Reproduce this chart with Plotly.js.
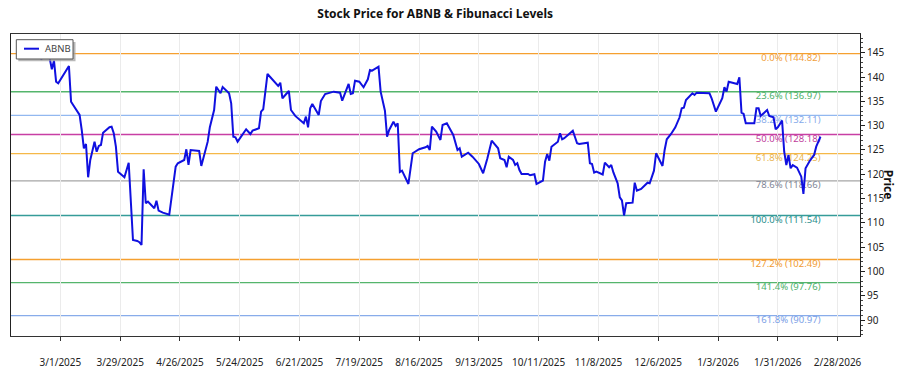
<!DOCTYPE html>
<html>
<head>
<meta charset="utf-8">
<script src="https://cdn.plot.ly/plotly-3.0.1.min.js"></script>
<style>html,body{margin:0;padding:0;background:#fff;}#chart{width:900px;height:375px;}</style>
</head>
<body>
<div id="chart"></div>
<script>
const dates = [
'2025-02-20','2025-02-21','2025-02-24','2025-02-25','2025-02-26','2025-02-27','2025-02-28','2025-03-05','2025-03-06','2025-03-08',
'2025-03-10','2025-03-11','2025-03-12','2025-03-13','2025-03-14','2025-03-15','2025-03-17','2025-03-18','2025-03-19','2025-03-20',
'2025-03-21','2025-03-24','2025-03-25','2025-03-26','2025-03-27','2025-03-28','2025-03-31','2025-04-02','2025-04-04','2025-04-06',
'2025-04-07','2025-04-08','2025-04-09','2025-04-10','2025-04-11','2025-04-14','2025-04-15','2025-04-16','2025-04-18','2025-04-21',
'2025-04-24','2025-04-25','2025-04-28','2025-04-29','2025-04-30','2025-05-01','2025-05-05','2025-05-06','2025-05-08','2025-05-09',
'2025-05-10','2025-05-12','2025-05-13','2025-05-14','2025-05-15','2025-05-16','2025-05-19','2025-05-20','2025-05-21','2025-05-22',
'2025-05-23','2025-05-27','2025-05-29','2025-05-30','2025-06-02','2025-06-03','2025-06-04','2025-06-06','2025-06-11','2025-06-12',
'2025-06-13','2025-06-16','2025-06-17','2025-06-19','2025-06-21','2025-06-23','2025-06-24','2025-06-25','2025-06-26','2025-06-27',
'2025-06-30','2025-07-01','2025-07-03','2025-07-07','2025-07-10','2025-07-11','2025-07-14','2025-07-15','2025-07-16','2025-07-17',
'2025-07-19','2025-07-21','2025-07-23','2025-07-24','2025-07-25','2025-07-28','2025-07-29','2025-07-31','2025-08-01','2025-08-02',
'2025-08-04','2025-08-05','2025-08-06','2025-08-07','2025-08-08','2025-08-11','2025-08-13','2025-08-16','2025-08-19','2025-08-20',
'2025-08-21','2025-08-22','2025-08-24','2025-08-26','2025-08-27','2025-08-29','2025-09-01','2025-09-03','2025-09-04','2025-09-05',
'2025-09-08','2025-09-10','2025-09-13','2025-09-15','2025-09-17','2025-09-19','2025-09-22','2025-09-23','2025-09-25','2025-09-26',
'2025-09-27','2025-09-29','2025-09-30','2025-10-01','2025-10-02','2025-10-03','2025-10-06','2025-10-07','2025-10-09','2025-10-10',
'2025-10-13','2025-10-14','2025-10-15','2025-10-16','2025-10-17','2025-10-20','2025-10-21','2025-10-22','2025-10-23','2025-10-27',
'2025-10-29','2025-10-30','2025-11-03','2025-11-04','2025-11-05','2025-11-06','2025-11-07','2025-11-10','2025-11-11','2025-11-13',
'2025-11-14','2025-11-15','2025-11-17','2025-11-18','2025-11-19','2025-11-20','2025-11-21','2025-11-23','2025-11-24','2025-11-25',
'2025-11-26','2025-11-28','2025-12-01','2025-12-02','2025-12-04','2025-12-05','2025-12-08','2025-12-09','2025-12-10','2025-12-12',
'2025-12-14','2025-12-16','2025-12-17','2025-12-18','2025-12-19','2025-12-22','2025-12-23','2025-12-24','2025-12-30','2025-12-31',
'2026-01-02','2026-01-05','2026-01-06','2026-01-07','2026-01-08','2026-01-12','2026-01-13','2026-01-14','2026-01-15','2026-01-16',
'2026-01-20','2026-01-21','2026-01-22','2026-01-23','2026-01-26','2026-01-27','2026-01-29','2026-01-30','2026-01-31','2026-02-02',
'2026-02-03','2026-02-04','2026-02-05','2026-02-06','2026-02-07','2026-02-09','2026-02-10','2026-02-11','2026-02-12','2026-02-13',
'2026-02-15','2026-02-17','2026-02-18','2026-02-20'
];
const prices = [
143.5,144.82,143.85,141.59,143.36,139.04,138.71,142.27,134.93,133.57,
132.2,129.11,125.35,126.24,119.39,122.95,126.71,124.65,125.83,126.03,
128.56,129.67,129.8,128.44,125.68,120.54,119.39,122.39,106.51,106.3,
106.04,105.48,121.04,114.05,114.38,113.02,114.58,112.53,112.12,111.7,
121.57,122.27,122.95,125.15,121.92,125.0,124.8,121.72,125.0,126.71,
129.67,133.22,138.01,137.33,136.66,137.95,136.66,134.6,127.74,127.61,
126.71,129.26,128.29,128.97,129.46,132.88,133.37,140.62,138.16,138.83,
135.63,137.13,133.22,132.0,131.31,130.49,131.85,129.67,133.57,134.46,
132.2,135.07,136.51,136.99,136.78,135.14,138.57,136.51,136.66,139.25,
139.04,137.89,139.53,141.44,141.3,142.12,136.99,133.08,127.74,129.11,
130.82,129.94,130.49,120.48,120.75,118.02,124.33,125.15,125.56,125.83,
125.0,129.79,128.77,127.06,130.14,130.49,128.09,125.0,125.35,123.63,
124.45,123.63,122.13,120.22,123.3,126.92,125.35,123.3,122.95,121.45,
123.63,122.95,121.92,122.27,120.89,120.07,120.07,119.8,120.01,118.02,
118.7,122.6,124.18,122.8,125.68,126.71,128.44,127.2,127.41,128.97,
126.38,126.24,126.5,122.27,122.13,120.34,120.54,119.97,122.39,121.45,
121.92,120.38,118.16,115.28,114.63,111.54,114.05,114.17,114.17,118.28,
116.64,116.99,118.28,118.16,120.75,124.33,121.72,125.0,127.2,128.29,
129.67,131.72,133.57,133.7,135.28,136.66,136.31,136.78,136.66,135.63,
132.88,135.63,137.89,136.99,139.04,138.57,139.94,132.67,132.4,130.49,
130.49,133.57,133.57,131.99,133.22,131.99,131.72,129.26,129.67,131.03,
124.65,121.92,123.98,121.24,121.9,121.37,120.54,119.52,115.96,121.24,
122.8,123.98,125.68,127.74
];
const fibPct = ['0.0%','23.6%','38.2%','50.0%','61.8%','78.6%','100.0%','127.2%','141.4%','161.8%'];
const fibLevels = [144.82,136.97,132.11,128.18,124.25,118.66,111.54,102.49,97.76,90.97];
const fibLineColors = ['#F5A030','#55B56C','#92B8F0','#C83FA4','#F5B848','#A6A6A6','#359C99','#F5A030','#55B56C','#88ACEA'];
const fibTextColors = ['#F0A040','#4DB06A','#86AAEA','#C0409C','#E8B44E','#808696','#2A8E8C','#F09A30','#4DB06A','#7AA0E6'];
const tickDates = ['2025-03-01','2025-03-29','2025-04-26','2025-05-24','2025-06-21','2025-07-19','2025-08-16','2025-09-13','2025-10-11','2025-11-08','2025-12-06','2026-01-03','2026-01-31','2026-02-28'];
const tickLabels = ['3/1/2025','3/29/2025','4/26/2025','5/24/2025','6/21/2025','7/19/2025','8/16/2025','9/13/2025','10/11/2025','11/8/2025','12/6/2025','1/3/2026','1/31/2026','2/28/2026'];
const labelDate = '2026-02-20';
const seriesName = 'ABNB';
const seriesColor = '#1010E0';

const FONT = 'Noto Sans, Open Sans, sans-serif';

const fibText = fibPct.map((p, i) => p + ' (' + fibLevels[i].toFixed(2) + ')');

const traces = [
  {
    x: fibLevels.map(() => labelDate),
    y: fibLevels,
    mode: 'text',
    text: fibText,
    textposition: 'bottom left',
    textfont: {family: FONT, size: 9.5, color: fibTextColors},
    showlegend: false,
    hoverinfo: 'skip'
  },
  {
    x: dates,
    y: prices,
    type: 'scatter',
    mode: 'lines',
    name: seriesName,
    line: {color: seriesColor, width: 2},
    showlegend: false
  }
];

const shapes = fibLevels.map((lv, i) => ({
  type: 'line', xref: 'paper', yref: 'y', x0: 0, x1: 1, y0: lv, y1: lv,
  line: {color: fibLineColors[i], width: 1.3}, layer: 'between'
}));
// legend box (shadow, frame, sample line)
shapes.push({type: 'rect', xref: 'paper', yref: 'paper', x0: 0.0086, x1: 0.0760, y0: 0.9096, y1: 0.9735,
  fillcolor: '#a0a0a0', line: {width: 0}, layer: 'above', opacity: 0.75});
shapes.push({type: 'rect', xref: 'paper', yref: 'paper', x0: 0.00625, x1: 0.07305, y0: 0.91722, y1: 0.98113,
  fillcolor: '#ffffff', line: {color: '#555555', width: 1}, layer: 'above'});
shapes.push({type: 'line', xref: 'paper', yref: 'paper', x0: 0.01532, x1: 0.03299, y0: 0.95132, y1: 0.95132,
  line: {color: seriesColor, width: 2}, layer: 'above'});

const layout = {
  width: 900, height: 375,
  margin: {l: 11, r: 40.3, t: 34, b: 39},
  paper_bgcolor: '#ffffff', plot_bgcolor: '#ffffff',
  font: {family: FONT, size: 10, color: '#222'},
  title: {text: '<b>Stock Price for ABNB &amp; Fibunacci Levels</b>', x: 0.4835, xanchor: 'center', y: 0.962, yanchor: 'middle',
    font: {family: FONT, size: 12, color: '#111'}},
  showlegend: false,
  xaxis: {
    type: 'date',
    range: ['2025-02-05 21:00', '2026-03-10 12:00'],
    tickvals: tickDates, ticktext: tickLabels,
    showgrid: true, gridcolor: '#ebebeb', gridwidth: 1,
    showline: true, linecolor: '#333', linewidth: 1, mirror: true,
    ticks: 'outside', ticklen: 4, tickcolor: '#333',
    ticklabelstandoff: 13,
    tickfont: {family: FONT, size: 10, color: '#222'},
    zeroline: false, automargin: false
  },
  yaxis: {
    side: 'right',
    range: [86.77, 148.84],
    dtick: 5, tick0: 0,
    showgrid: false,
    showline: true, linecolor: '#222', linewidth: 1, mirror: true,
    ticks: 'outside', ticklen: 4, tickcolor: '#222',
    minor: {ticks: 'outside', ticklen: 2, dtick: 1, tickcolor: '#444', showgrid: false},
    tickfont: {family: FONT, size: 10, color: '#222'},
    zeroline: false, automargin: false
  },
  shapes: shapes,
  annotations: [
    {
      text: '<b>Price</b>', xref: 'paper', yref: 'paper', x: 1.0345, y: 0.5, xanchor: 'center', yanchor: 'middle',
      textangle: 90, showarrow: false, font: {family: FONT, size: 12, color: '#111'}
    },
    {
      text: seriesName, xref: 'paper', yref: 'paper', x: 0.0372, y: 0.9513, xanchor: 'left', yanchor: 'middle',
      showarrow: false, font: {family: FONT, size: 9.5, color: '#444'}
    }
  ]
};

Plotly.newPlot('chart', traces, layout, {displayModeBar: false, staticPlot: true});
</script>
</body>
</html>
